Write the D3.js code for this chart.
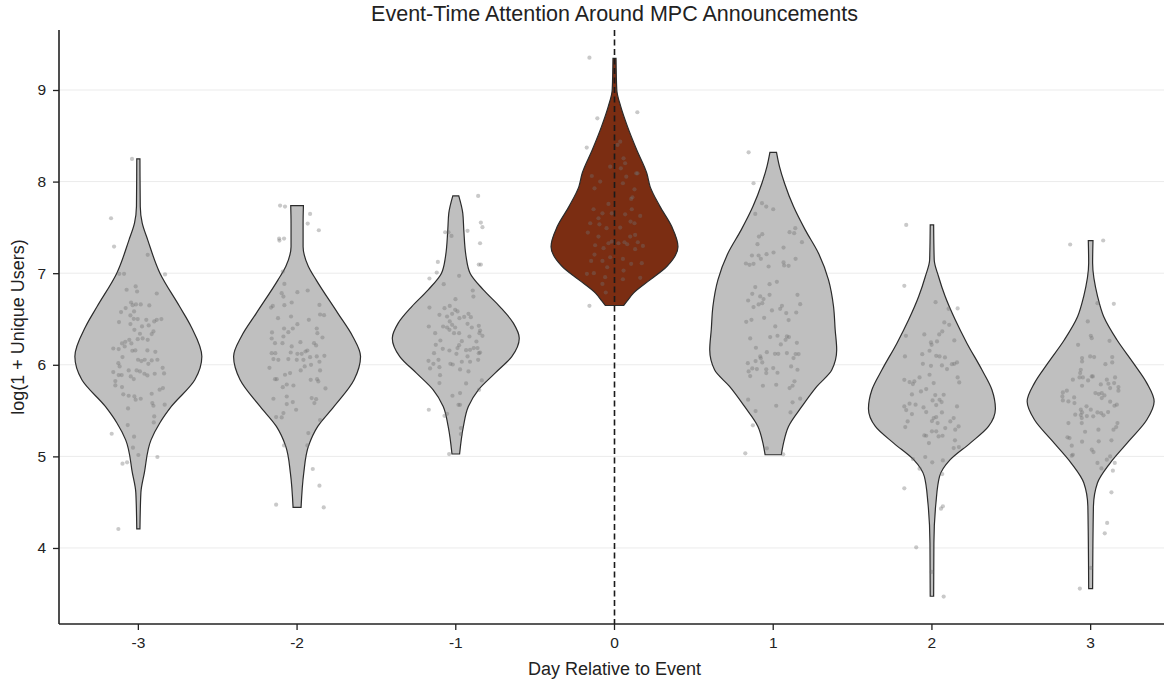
<!DOCTYPE html>
<html>
<head>
<meta charset="utf-8">
<script src="https://cdn.jsdelivr.net/npm/d3@7"></script>
<style>
  body { margin: 0; background: #fff; }
  text { font-family: "Liberation Sans", Arial, sans-serif; fill: #222; }
</style>
</head>
<body>
<div id="chart"></div>
<script>
// categories on the x axis
var days = ["-3", "-2", "-1", "0", "1", "2", "3"];
var eventDay = "0";
var yTicks = [4, 5, 6, 7, 8, 9];

// violin outlines: [value, relative half width]
var shapeM3 = [[4.208,0.025],[4.604,0.04],[4.822,0.095],[5.18,0.2],[5.367,0.34],[5.545,0.52],[5.836,0.89],[6.09,1.0],[6.418,0.83],[6.636,0.65],[7.0,0.34],[7.364,0.147],[7.549,0.06],[7.727,0.03],[8.247,0.025]];
var shapeM2 = [[4.443,0.063],[4.818,0.105],[5.109,0.178],[5.327,0.326],[5.545,0.583],[5.836,0.898],[6.09,1.0],[6.309,0.877],[6.564,0.641],[6.927,0.3],[7.073,0.178],[7.29,0.095],[7.546,0.095],[7.738,0.1]];
var shapeM1 = [[5.026,0.06],[5.327,0.12],[5.545,0.198],[5.727,0.356],[5.909,0.619],[6.09,0.882],[6.291,1.0],[6.455,0.907],[6.636,0.693],[6.818,0.435],[7.0,0.225],[7.182,0.162],[7.473,0.126],[7.655,0.11],[7.844,0.047]];
var shapeZ0 = [[6.647,0.144],[6.691,0.194],[6.782,0.299],[6.927,0.561],[7.073,0.824],[7.29,1.0],[7.509,0.902],[7.727,0.718],[7.945,0.561],[8.091,0.509],[8.345,0.351],[8.6,0.205],[8.818,0.099],[9.0,0.036],[9.345,0.024]];
var shapeP1 = [[5.018,0.128],[5.145,0.162],[5.327,0.241],[5.545,0.452],[5.764,0.688],[5.945,0.924],[6.164,1.0],[6.382,0.976],[6.636,0.95],[6.927,0.871],[7.218,0.713],[7.473,0.504],[7.727,0.32],[7.982,0.178],[8.164,0.099],[8.32,0.052]];
var shapeP2 = [[3.473,0.027],[4.055,0.031],[4.491,0.063],[4.782,0.12],[4.964,0.288],[5.145,0.603],[5.327,0.891],[5.52,1.0],[5.727,0.945],[5.945,0.787],[6.236,0.551],[6.491,0.367],[6.745,0.209],[6.964,0.104],[7.146,0.036],[7.527,0.027]];
var shapeP3 = [[3.557,0.031],[4.455,0.044],[4.709,0.107],[4.927,0.307],[5.182,0.622],[5.4,0.885],[5.6,1.0],[5.8,0.885],[6.018,0.674],[6.273,0.413],[6.527,0.205],[6.745,0.11],[7.11,0.031],[7.356,0.037]];

// strip points: [offset within band, value]
var ptsM3 = [[-0.04,8.248],[-0.172,7.6],[-0.153,7.291],[0.059,7.2],[-0.12,6.993],[-0.09,6.993],[0.168,6.986],[-0.017,6.855],[-0.074,6.819],[-0.008,6.8],[0.116,6.778],[-0.046,6.68],[-0.036,6.651],[-0.015,6.659],[0.015,6.659],[0.069,6.648],[-0.08,6.619],[-0.109,6.575],[-0.027,6.582],[-0.05,6.539],[-0.029,6.502],[-0.004,6.499],[0.05,6.491],[0.116,6.491],[0.145,6.499],[0.1,6.473],[-0.122,6.466],[-0.05,6.444],[0.023,6.419],[0.065,6.43],[0.095,6.364],[-0.025,6.382],[0.01,6.339],[0.084,6.335],[-0.004,6.28],[0.027,6.288],[0.059,6.273],[-0.057,6.273],[-0.082,6.251],[-0.103,6.233],[-0.044,6.233],[-0.158,6.178],[-0.124,6.171],[-0.086,6.2],[-0.038,6.153],[-0.019,6.157],[0.057,6.157],[0.107,6.142],[-0.1,6.084],[-0.002,6.055],[0.019,6.04],[0.04,6.055],[0.084,6.048],[0.12,6.055],[0.063,6.011],[-0.126,6.018],[-0.118,5.982],[-0.158,5.92],[-0.061,5.938],[-0.011,5.938],[0.01,5.927],[0.057,5.884],[0.103,5.902],[0.153,5.967],[0.162,5.906],[-0.124,5.888],[-0.105,5.888],[-0.048,5.873],[-0.029,5.844],[0.038,5.902],[-0.145,5.822],[-0.145,5.775],[-0.103,5.757],[-0.095,5.677],[-0.061,5.662],[-0.025,5.655],[-0.017,5.618],[0.015,5.629],[0.084,5.684],[0.134,5.728],[0.155,5.746],[0.088,5.582],[0.095,5.553],[0.166,5.564],[-0.065,5.524],[0.1,5.436],[0.097,5.371],[-0.067,5.342],[-0.168,5.247],[-0.027,5.215],[-0.034,5.095],[0,5.015],[-0.071,4.935],[-0.1,4.92],[0.12,4.993],[-0.126,4.207]];
var ptsM2 = [[-0.107,7.738],[-0.076,7.727],[0.082,7.647],[0.067,7.542],[0.137,7.469],[-0.113,7.378],[-0.082,7.378],[-0.111,7.356],[-0.09,7.018],[-0.08,6.883],[-0.097,6.782],[-0.086,6.745],[0.002,6.793],[0.067,6.811],[-0.153,6.643],[-0.164,6.625],[-0.08,6.651],[-0.034,6.68],[0.141,6.654],[0.145,6.549],[0.17,6.542],[-0.12,6.509],[-0.038,6.527],[0.074,6.491],[0.002,6.443],[-0.082,6.396],[-0.027,6.396],[0.124,6.396],[-0.055,6.356],[-0.158,6.353],[0.128,6.345],[-0.086,6.309],[-0.16,6.287],[0.16,6.298],[-0.139,6.236],[-0.092,6.236],[0.021,6.247],[0.107,6.236],[0.12,6.211],[-0.034,6.2],[-0.137,6.127],[-0.16,6.127],[-0.04,6.134],[0.002,6.12],[0.029,6.12],[0.053,6.145],[0.065,6.156],[0.172,6.098],[-0.149,6.062],[-0.118,6.054],[-0.055,6.062],[-0.002,6.054],[0.04,6.054],[0.082,6.083],[0.124,6.091],[0.141,6.033],[0.088,6.0],[-0.174,5.967],[0.048,5.982],[0.023,5.938],[0.145,5.938],[-0.044,5.909],[-0.139,5.843],[-0.128,5.843],[-0.076,5.891],[0.086,5.836],[0.126,5.843],[0.134,5.818],[-0.09,5.756],[-0.065,5.785],[-0.023,5.774],[0.179,5.742],[-0.149,5.629],[-0.065,5.654],[0.092,5.636],[0.12,5.625],[-0.065,5.571],[-0.027,5.593],[0.109,5.582],[-0.006,5.509],[-0.086,5.473],[-0.132,5.429],[-0.097,5.425],[0.145,5.396],[0.071,5.254],[-0.082,5.12],[0.065,5.12],[0.099,4.862],[0.141,4.68],[-0.132,4.473],[0.168,4.443]];
var ptsM1 = [[0.141,7.843],[0.158,7.553],[0.168,7.502],[-0.067,7.447],[-0.046,7.447],[-0.027,7.407],[0.074,7.462],[0.153,7.327],[-0.113,7.123],[-0.12,7.007],[-0.166,6.942],[0.145,7.094],[0.158,7.094],[-0.076,6.88],[0.021,6.971],[0.107,6.811],[0.111,6.745],[-0.002,6.716],[-0.166,6.625],[-0.071,6.618],[-0.038,6.643],[-0.103,6.545],[-0.055,6.527],[-0.004,6.6],[0.011,6.582],[-0.023,6.556],[0.08,6.556],[0.053,6.523],[0.095,6.52],[0.023,6.509],[-0.038,6.473],[-0.023,6.436],[-0.17,6.418],[-0.08,6.418],[-0.055,6.407],[-0.004,6.407],[0.074,6.447],[0.101,6.407],[0.145,6.425],[0.153,6.374],[-0.04,6.382],[-0.13,6.345],[-0.011,6.345],[0.021,6.345],[0.086,6.309],[0.149,6.345],[0.168,6.316],[-0.097,6.265],[0.038,6.258],[0.13,6.254],[-0.126,6.218],[0.021,6.214],[-0.082,6.174],[-0.04,6.156],[0.011,6.182],[0.065,6.16],[0.09,6.163],[0.137,6.182],[0.153,6.134],[-0.137,6.127],[0.004,6.12],[0.074,6.091],[0.113,6.182],[0.145,6.127],[-0.172,6.043],[-0.109,6.054],[-0.141,6.011],[-0.034,6.011],[0.038,6.033],[0.09,6.033],[0.141,6.054],[-0.162,5.96],[-0.103,5.974],[-0.019,6.003],[0.027,5.949],[0.08,5.927],[-0.099,5.887],[-0.103,5.8],[0.065,5.796],[0.164,5.829],[0.147,5.727],[-0.021,5.662],[0.027,5.691],[0.017,5.563],[0.027,5.563],[-0.17,5.509],[-0.071,5.443],[-0.055,5.465],[0.032,5.309],[0.032,5.243],[-0.042,5.025]];
var ptsZ0 = [[-0.158,9.353],[-0.108,8.691],[0.144,8.757],[-0.175,8.371],[0.019,8.4],[0.036,8.436],[0.057,8.254],[0.067,8.2],[-0.027,8.163],[0.04,8.145],[0.137,8.09],[0.145,8.09],[-0.143,8.061],[0.074,8.054],[-0.09,8.0],[0.053,7.982],[-0.126,7.927],[0.126,7.916],[0.113,7.829],[0.105,7.811],[-0.038,7.756],[-0.017,7.654],[-0.076,7.654],[-0.132,7.698],[0.109,7.698],[0.067,7.643],[0.162,7.625],[-0.101,7.6],[-0.153,7.545],[-0.095,7.534],[0.101,7.563],[0.126,7.545],[-0.05,7.491],[0.036,7.498],[-0.168,7.443],[-0.101,7.4],[0.099,7.4],[0.13,7.418],[0.147,7.338],[0.063,7.338],[-0.038,7.327],[-0.122,7.305],[-0.017,7.345],[0.025,7.327],[0.08,7.316],[0.179,7.298],[0.13,7.262],[-0.069,7.273],[-0.126,7.203],[-0.027,7.174],[0.053,7.156],[-0.147,7.134],[-0.076,7.134],[0.105,7.102],[0.172,7.109],[-0.046,7.065],[0.057,7.029],[-0.174,6.993],[-0.13,7.0],[-0.059,6.956],[0.053,6.934],[0.162,6.949],[-0.076,6.883],[-0.055,6.789],[-0.158,6.644]];
var ptsP1 = [[-0.155,8.32],[-0.124,7.982],[-0.071,7.764],[-0.044,7.727],[0,7.698],[-0.113,7.647],[0.139,7.491],[0.103,7.448],[0.132,7.437],[-0.069,7.426],[-0.09,7.4],[0.181,7.339],[-0.099,7.317],[0.065,7.28],[0.002,7.226],[-0.042,7.208],[-0.134,7.193],[-0.092,7.193],[-0.078,7.157],[0.141,7.157],[-0.172,7.106],[-0.149,7.091],[-0.124,7.102],[-0.029,7.073],[0.065,7.117],[0.069,7.084],[0.097,7.08],[0.023,6.906],[-0.023,6.88],[-0.113,6.848],[-0.132,6.775],[0.153,6.764],[-0.023,6.764],[-0.082,6.746],[-0.061,6.717],[-0.158,6.702],[-0.092,6.659],[-0.069,6.673],[0.17,6.662],[-0.124,6.63],[0.055,6.644],[0.044,6.611],[-0.008,6.593],[0.082,6.564],[0.145,6.571],[-0.057,6.513],[-0.137,6.491],[-0.17,6.469],[0.097,6.488],[0.013,6.419],[-0.145,6.288],[-0.019,6.302],[0.027,6.317],[0.086,6.31],[0.099,6.302],[0.078,6.273],[0.149,6.24],[0.048,6.222],[-0.109,6.186],[-0.04,6.138],[0.011,6.12],[0.032,6.12],[0.086,6.128],[0.141,6.117],[0.16,6.117],[-0.082,6.091],[-0.078,6.07],[-0.111,6.04],[-0.16,6.018],[-0.069,6.026],[-0.132,5.96],[-0.103,5.953],[-0.155,5.928],[-0.044,5.95],[0,5.964],[0.128,6.073],[0.113,5.982],[0.153,5.946],[-0.044,5.909],[0.027,5.913],[-0.145,5.877],[-0.065,5.771],[0.019,5.782],[0.134,5.819],[0.122,5.771],[0.103,5.746],[-0.158,5.619],[0.17,5.63],[0.122,5.59],[0.019,5.553],[-0.111,5.495],[0.109,5.48],[-0.128,5.339],[-0.04,5.088],[-0.176,5.033],[0.063,5.022]];
var ptsP2 = [[-0.162,7.527],[-0.174,6.862],[0.023,6.684],[0.105,6.611],[0.162,6.615],[0.078,6.462],[0.109,6.436],[-0.164,6.316],[-0.048,6.331],[0.046,6.331],[0.065,6.364],[-0.006,6.244],[0.032,6.255],[-0.002,6.218],[0.141,6.266],[-0.17,6.091],[-0.061,6.116],[-0.015,6.153],[0.027,6.098],[0.048,6.091],[0.082,6.08],[-0.057,6.011],[-0.006,5.989],[0.063,5.993],[0.095,5.953],[0.126,6.007],[0.158,6.026],[0.141,6.011],[-0.078,5.862],[-0.015,5.891],[0.162,5.862],[-0.174,5.836],[-0.141,5.811],[-0.111,5.818],[-0.12,5.789],[0.011,5.8],[0.172,5.807],[-0.069,5.709],[-0.036,5.735],[-0.126,5.676],[0.021,5.669],[0.074,5.673],[0.004,5.611],[0.048,5.618],[0.061,5.593],[-0.174,5.545],[-0.141,5.575],[-0.103,5.564],[-0.053,5.535],[0.027,5.56],[0.158,5.545],[-0.162,5.505],[-0.126,5.462],[-0.036,5.484],[0.063,5.48],[0.011,5.418],[0.027,5.429],[0,5.385],[0.036,5.364],[0.116,5.382],[0.137,5.418],[-0.153,5.382],[-0.168,5.32],[0.084,5.309],[0.147,5.291],[0.168,5.327],[0,5.273],[0.027,5.273],[-0.048,5.229],[-0.036,5.225],[0.042,5.218],[0.067,5.225],[-0.019,5.145],[0.145,5.175],[0.137,5.091],[0.17,5.102],[-0.12,4.971],[-0.042,4.993],[0.002,4.935],[0.069,4.956],[-0.078,4.866],[0.065,4.807],[-0.174,4.651],[0.069,4.455],[0.057,4.429],[-0.099,4.007],[-0.002,3.738],[0.074,3.469]];
var ptsP3 = [[-0.129,7.313],[0.079,7.357],[0.043,6.673],[0.146,6.666],[-0.018,6.473],[0.001,6.317],[0.007,6.291],[0.119,6.262],[-0.079,6.218],[-0.003,6.091],[0.022,6.084],[-0.054,6.073],[-0.054,6.036],[0.136,6.084],[0.136,6.026],[0.093,6.007],[-0.062,5.946],[-0.066,5.909],[-0.07,5.862],[-0.049,5.862],[0.007,5.873],[0.014,5.873],[-0.112,5.837],[-0.016,5.829],[0.102,5.837],[0.154,5.862],[0.064,5.786],[0.112,5.793],[-0.054,5.771],[0.148,5.8],[0.175,5.757],[0.175,5.717],[0.123,5.746],[-0.175,5.698],[-0.15,5.717],[-0.178,5.655],[0.03,5.691],[0.051,5.68],[0.087,5.666],[0.07,5.691],[-0.104,5.644],[0.07,5.637],[-0.175,5.611],[-0.14,5.6],[-0.102,5.582],[0.123,5.597],[0.15,5.553],[0.165,5.564],[-0.026,5.546],[-0.062,5.51],[-0.054,5.48],[0.001,5.51],[-0.097,5.455],[-0.062,5.451],[0.043,5.48],[0.066,5.473],[0.11,5.484],[-0.056,5.418],[-0.024,5.44],[0.016,5.437],[0.081,5.448],[-0.14,5.364],[-0.056,5.364],[0.169,5.364],[0.161,5.32],[0.144,5.291],[-0.035,5.269],[0.049,5.291],[-0.146,5.208],[-0.133,5.2],[0.131,5.175],[-0.119,5.117],[-0.054,5.16],[0.051,5.164],[0.018,5.047],[0.007,5.073],[-0.119,5.008],[-0.112,5.018],[0.123,5.0],[0.102,4.964],[0.068,4.869],[0.043,4.928],[0.152,4.928],[0.14,4.844],[0.131,4.608],[0.104,4.273],[0.089,4.16],[0.001,3.782],[-0.068,3.557]];

var shapes = [shapeM3, shapeM2, shapeM1, shapeZ0, shapeP1, shapeP2, shapeP3];
var points = [ptsM3, ptsM2, ptsM1, ptsZ0, ptsP1, ptsP2, ptsP3];

var width = 1164, height = 681;
var margin = { top: 30, right: -6, bottom: 57, left: 59 };

var svg = d3.select("#chart").append("svg")
  .attr("width", width)
  .attr("height", height);

var x = d3.scaleBand()
  .domain(days)
  .range([margin.left, width - margin.right])
  .padding(0);

var y = d3.scaleLinear()
  .domain([3.17, 9.655])
  .range([height - margin.bottom, margin.top]);

// light horizontal grid
svg.append("g").selectAll("line")
  .data(yTicks)
  .enter().append("line")
  .attr("x1", margin.left).attr("x2", width)
  .attr("y1", function (d) { return y(d); })
  .attr("y2", function (d) { return y(d); })
  .attr("stroke", "#ebebeb")
  .attr("stroke-width", 1);

var halfMax = x.bandwidth() * 0.4;

svg.append("g").selectAll("path")
  .data(days)
  .enter().append("path")
  .attr("d", function (d, i) {
    var cx = x(d) + x.bandwidth() / 2;
    return d3.area()
      .y(function (p) { return y(p[0]); })
      .x0(function (p) { return cx - p[1] * halfMax; })
      .x1(function (p) { return cx + p[1] * halfMax; })
      .curve(d3.curveMonotoneY)(shapes[i]);
  })
  .attr("fill", function (d) { return d === eventDay ? "#7b2d12" : "#bfbfbf"; })
  .attr("stroke", "#2b2b2b")
  .attr("stroke-width", 1.2);

// jittered observations on top
days.forEach(function (d, i) {
  var cx = x(d) + x.bandwidth() / 2;
  svg.append("g").selectAll("circle")
    .data(points[i])
    .enter().append("circle")
    .attr("cx", function (p) { return cx + p[0] * x.bandwidth(); })
    .attr("cy", function (p) { return y(p[1]); })
    .attr("r", 2.1)
    .attr("fill", "#707070")
    .attr("fill-opacity", 0.38);
});

// event line
svg.append("line")
  .attr("x1", x(eventDay) + x.bandwidth() / 2)
  .attr("x2", x(eventDay) + x.bandwidth() / 2)
  .attr("y1", margin.top)
  .attr("y2", height - margin.bottom)
  .attr("stroke", "#1a1a1a")
  .attr("stroke-width", 1.6)
  .attr("stroke-dasharray", "6,3.5");

var xAxis = svg.append("g")
  .attr("transform", "translate(0," + (height - margin.bottom) + ")")
  .call(d3.axisBottom(x).tickSize(6).tickPadding(7));

var yAxis = svg.append("g")
  .attr("transform", "translate(" + margin.left + ",0)")
  .call(d3.axisLeft(y).tickValues(yTicks).tickSize(6).tickPadding(7).tickFormat(d3.format("d")));

[xAxis, yAxis].forEach(function (g) {
  g.select(".domain").attr("stroke", "#222").attr("stroke-width", 1.6);
  g.selectAll(".tick line").attr("stroke", "#222").attr("stroke-width", 1.3);
  g.selectAll(".tick text").attr("font-size", 15.5).attr("fill", "#222")
    .style("font-family", "'Liberation Sans', Arial, sans-serif");
});
// no end caps on the spines
xAxis.select(".domain").attr("d", "M" + margin.left + ",0H" + (width + 10));
yAxis.select(".domain").attr("d", "M0," + y.range()[0] + "V" + margin.top);

svg.append("text")
  .attr("x", x(eventDay) + x.bandwidth() / 2)
  .attr("y", 21)
  .attr("text-anchor", "middle")
  .attr("font-size", 21.5)
  .text("Event-Time Attention Around MPC Announcements");

svg.append("text")
  .attr("x", x(eventDay) + x.bandwidth() / 2)
  .attr("y", 675)
  .attr("text-anchor", "middle")
  .attr("font-size", 18)
  .text("Day Relative to Event");

svg.append("text")
  .attr("transform", "translate(24," + ((margin.top + height - margin.bottom) / 2) + ") rotate(-90)")
  .attr("text-anchor", "middle")
  .attr("font-size", 18)
  .text("log(1 + Unique Users)");
</script>
</body>
</html>
